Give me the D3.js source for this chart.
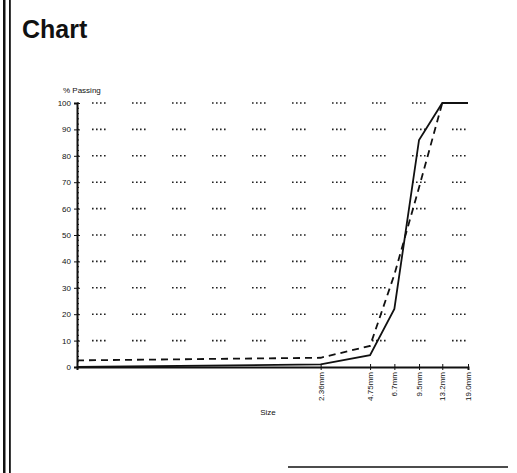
<!DOCTYPE html>
<html>
<head>
<meta charset="utf-8">
<script src="https://cdn.jsdelivr.net/npm/d3@7"></script>
<style>
    html, body { margin: 0; padding: 0; background: #fff; }
    svg { display: block; font-family: "Liberation Sans", Arial, sans-serif; }
</style>
</head>
<body>
<div id="chart-container"></div>
<script>

// sieve sizes (mm) and % passing for the two samples
var sizes = [0.075, 2.36, 4.75, 6.7, 9.5, 13.2, 19.0];
var solidPassing = [0, 1, 4.5, 22, 86, 100, 100];
var dashedPassing = [2.5, 3.5, 8, 35, 68, 100, 100];

var sizeTicks = [2.36, 4.75, 6.7, 9.5, 13.2, 19.0];
var sizeLabels = ['2.36mm', '4.75mm', '6.7mm', '9.5mm', '13.2mm', '19.0mm'];
var passingTicks = [0, 10, 20, 30, 40, 50, 60, 70, 80, 90, 100];

var _width = 517,
    _height = 473,
    _left = 77,
    _right = 468,
    _top = 103,
    _bottom = 367;

var _svg = d3.select('#chart-container').append('svg')
    .attr('width', _width)
    .attr('height', _height);

var x = d3.scaleLog().domain([0.075, 19.0]).range([_left, _right]);
var y = d3.scaleLinear().domain([0, 100]).range([_bottom, _top]);

// FRAME
// ----------------------------------------------------------------
_svg.append('rect').attr('x', 3).attr('y', 0).attr('width', 2.5).attr('height', _height).attr('fill', '#111');
_svg.append('rect').attr('x', 9).attr('y', 0).attr('width', 1.8).attr('height', _height).attr('fill', '#111');
_svg.append('line')
    .attr('x1', 288).attr('x2', 508)
    .attr('y1', 467).attr('y2', 467)
    .attr('stroke', '#111').attr('stroke-width', 1.5);

_svg.append('text')
    .attr('x', 22)
    .attr('y', 38)
    .attr('font-size', 25)
    .attr('font-weight', 'bold')
    .attr('fill', '#111')
    .text('Chart');

// GRID (dotted, clustered like the scan)
// ----------------------------------------------------------------
_svg.append('g').selectAll('line')
    .data(passingTicks.filter(function (d) { return d > 0; }))
    .enter().append('line')
    .attr('x1', _left).attr('x2', _right)
    .attr('y1', function (d) { return y(d); })
    .attr('y2', function (d) { return y(d); })
    .attr('stroke', '#222')
    .attr('stroke-width', 1.6)
    .attr('stroke-dasharray', '1.6,2.4,1.6,2.4,1.6,2.4,1.6,26.4')
    .attr('stroke-dashoffset', -15);

// Y AXIS
// ----------------------------------------------------------------
var gY = _svg.append('g').attr('transform', 'translate(' + _left + ',0)');
gY.call(d3.axisLeft(y).tickValues(passingTicks).tickSize(3).tickPadding(3));
gY.select('.domain').attr('stroke', '#111').attr('stroke-width', 2);
gY.selectAll('.tick line').attr('stroke', '#111').attr('x2', 3).attr('x1', -3);
gY.selectAll('.tick text').attr('font-size', 8).attr('fill', '#111')
    .attr('font-family', '"Liberation Sans", Arial, sans-serif');

gY.selectAll('.minor')
    .data(d3.range(0, 101, 2))
    .enter().append('line')
    .attr('class', 'minor')
    .attr('x1', 0).attr('x2', 2)
    .attr('y1', function (d) { return y(d); })
    .attr('y2', function (d) { return y(d); })
    .attr('stroke', '#111');

_svg.append('text')
    .attr('x', 63)
    .attr('y', 93)
    .attr('font-size', 8)
    .attr('fill', '#111')
    .text('% Passing');

// X AXIS
// ----------------------------------------------------------------
var gX = _svg.append('g').attr('transform', 'translate(0,' + _bottom + ')');
gX.call(d3.axisBottom(x).tickValues(sizeTicks).tickSize(3).tickFormat(function (d, i) { return sizeLabels[i]; }));
gX.select('.domain').attr('stroke', '#111').attr('stroke-width', 2);
gX.selectAll('.tick line').attr('stroke', '#111').attr('y1', -3).attr('y2', 3);
gX.selectAll('.tick text')
    .attr('font-size', 8)
    .attr('fill', '#111')
    .attr('font-family', '"Liberation Sans", Arial, sans-serif')
    .attr('text-anchor', 'end')
    .attr('dy', '0.32em')
    .attr('y', 0)
    .attr('transform', 'translate(0,5) rotate(-90)');

_svg.append('text')
    .attr('x', 268)
    .attr('y', 415)
    .attr('font-size', 8)
    .attr('text-anchor', 'middle')
    .attr('fill', '#111')
    .text('Size');

// SERIES
// ----------------------------------------------------------------
var line = d3.line()
    .x(function (d) { return x(d[0]); })
    .y(function (d) { return y(d[1]); });

_svg.append('path')
    .datum(d3.zip(sizes, dashedPassing))
    .attr('d', line)
    .attr('fill', 'none')
    .attr('stroke', '#111')
    .attr('stroke-width', 1.8)
    .attr('stroke-dasharray', '7,5');

_svg.append('path')
    .datum(d3.zip(sizes, solidPassing))
    .attr('d', line)
    .attr('fill', 'none')
    .attr('stroke', '#111')
    .attr('stroke-width', 1.8);

</script>
</body>
</html>
